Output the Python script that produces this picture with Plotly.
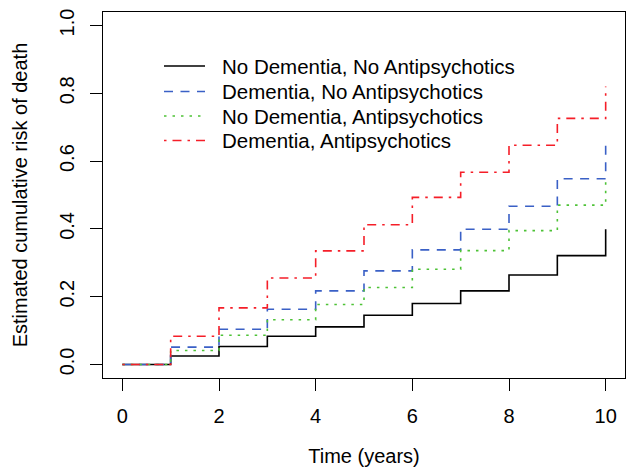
import plotly.graph_objects as go

# ---- data ----
time_years = [0, 1, 2, 3, 4, 5, 6, 7, 8, 9, 10]
series_names = [
    "No Dementia, No Antipsychotics",
    "Dementia, No Antipsychotics",
    "No Dementia, Antipsychotics",
    "Dementia, Antipsychotics",
]
risk_no_dem_no_ap = [0, 0.025, 0.053, 0.083, 0.111, 0.145, 0.180, 0.217, 0.264, 0.321, 0.399]
risk_dem_no_ap = [0, 0.051, 0.104, 0.163, 0.217, 0.276, 0.338, 0.399, 0.467, 0.548, 0.647]
risk_no_dem_ap = [0, 0.041, 0.086, 0.132, 0.177, 0.227, 0.281, 0.336, 0.395, 0.470, 0.550]
risk_dem_ap = [0, 0.083, 0.167, 0.255, 0.335, 0.412, 0.493, 0.567, 0.647, 0.726, 0.820]
x_ticks = [0, 2, 4, 6, 8, 10]
y_ticks = [0.0, 0.2, 0.4, 0.6, 0.8, 1.0]

# ---- styles ----
colors = ["#000000", "#3A60C6", "#4DC236", "#F51E28"]
dashes = ["solid", "9px,7.5px", "2.5px,6px", "2.5px,6px,9px,6px"]
LW = 1.6
FONT = "Liberation Sans, Arial, sans-serif"

W, H = 627, 470
ML, MR, MT, MB = 103, 2, 12, 92
PW, PH = W - ML - MR, H - MT - MB


def px_x(p):
    return (p - ML) / PW


def px_y(p):
    return (H - MB - p) / PH


series = [risk_no_dem_no_ap, risk_dem_no_ap, risk_no_dem_ap, risk_dem_ap]

fig = go.Figure()
for name, vals, c, d in zip(series_names, series, colors, dashes):
    fig.add_trace(go.Scatter(
        x=time_years, y=vals, mode="lines", name=name,
        line=dict(color=c, width=LW, dash=d, shape="hv"),
        showlegend=False, hoverinfo="x+y+name",
    ))

# manual legend (no box), like base R legend()
leg_rows = [66, 91.5, 116, 140.5]
for name, c, d, ry in zip(series_names, colors, dashes, leg_rows):
    fig.add_shape(type="line", xref="paper", yref="paper",
                  x0=px_x(164), x1=px_x(205), y0=px_y(ry), y1=px_y(ry),
                  line=dict(color=c, width=LW, dash=d))
    fig.add_annotation(xref="paper", yref="paper", x=px_x(220), y=px_y(ry),
                       text=name, showarrow=False, xanchor="left", yanchor="middle",
                       font=dict(size=20.5, color="black", family=FONT))

axis_common = dict(
    showline=True, mirror=True, linecolor="black", linewidth=1.2,
    ticks="outside", ticklen=12, tickwidth=1.2, tickcolor="black",
    showgrid=False, zeroline=False,
    tickfont=dict(size=20, color="black", family=FONT),
)

fig.update_xaxes(
    range=[-0.4, 10.4], tickvals=x_ticks, ticktext=[str(v) for v in x_ticks],
    title=dict(text="Time (years)", font=dict(size=20, color="black", family=FONT), standoff=22),
    ticklabelstandoff=8,
    **axis_common,
)
fig.update_yaxes(
    range=[-0.04, 1.04], tickvals=y_ticks, ticktext=[f"{v:.1f}" for v in y_ticks],
    tickangle=-90,
    title=dict(text="Estimated cumulative risk of death", font=dict(size=20, color="black", family=FONT), standoff=22),
    ticklabelstandoff=8,
    **axis_common,
)

fig.update_layout(
    width=W, height=H,
    margin=dict(l=ML, r=MR, t=MT, b=MB, autoexpand=False),
    plot_bgcolor="white", paper_bgcolor="white",
    font=dict(family=FONT, color="black"),
    showlegend=False,
)

fig.write_html(
    "out.html",
    config={"displayModeBar": False},
    post_script="document.body.style.margin='0';document.body.style.overflow='hidden';",
)
